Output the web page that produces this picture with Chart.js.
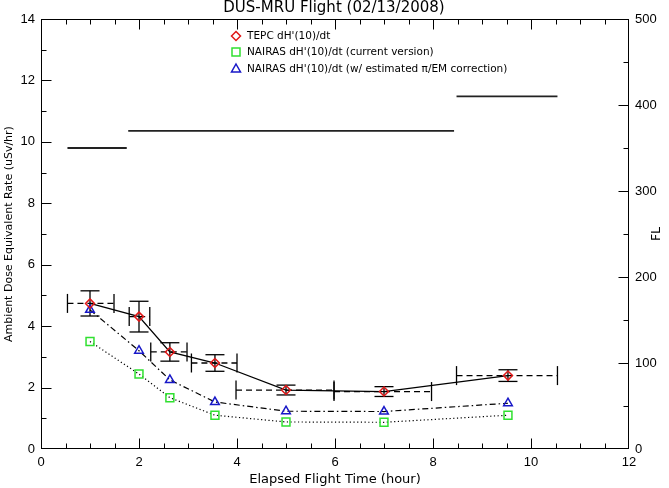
<!DOCTYPE html>
<html><head><meta charset="utf-8">
<script src="https://cdn.jsdelivr.net/npm/chart.js@4.4.0/dist/chart.umd.min.js"></script>
<style>html,body{margin:0;padding:0;background:#fff}#wrap{width:669px;height:488px;position:relative}</style>
</head><body><div id="wrap"><canvas id="c" width="669" height="488"></canvas></div>
<script>
const titleText = 'DUS-MRU Flight (02/13/2008)';
const xTitle = 'Elapsed Flight Time (hour)';
const yTitle = 'Ambient Dose Equivalent Rate (uSv/hr)';
const y2Title = 'FL';
const seriesNames = ["TEPC dH'(10)/dt", "NAIRAS dH'(10)/dt (current version)", "NAIRAS dH'(10)/dt (w/ estimated \u03c0/EM correction)"];
const timeH = [1.0, 2.0, 2.63, 3.55, 5.0, 7.0, 9.53];
const timeLo = [0.54, 1.80, 2.24, 3.07, 3.98, 5.98, 8.48];
const timeHi = [1.49, 2.22, 2.98, 4.00, 5.98, 7.97, 10.54];
const tepc = [4.74, 4.31, 3.16, 2.80, 1.92, 1.87, 2.39];
const tepcErr = [0.41, 0.50, 0.30, 0.27, 0.16, 0.16, 0.19];
const nairasCurrent = [3.50, 2.44, 1.67, 1.10, 0.88, 0.87, 1.10];
const nairasCorrected = [4.53, 3.20, 2.25, 1.53, 1.23, 1.22, 1.49];
const flStart = [0.54, 1.78, 8.48];
const flEnd = [1.75, 8.43, 10.54];
const flLevel = [350, 370, 410];

const RED = '#e01818', GREEN = '#30e030', BLUE = '#1818c8';

function pts(xs, ys){ return xs.map((v,i)=>({x:v, y:ys[i]})); }
const flData = [];
flStart.forEach((s,i)=>{
  if (i>0) flData.push({x:(flEnd[i-1]+s)/2, y:null});
  flData.push({x:s, y:flLevel[i]});
  flData.push({x:flEnd[i], y:flLevel[i]});
});

function line(ctx,x1,y1,x2,y2){ctx.beginPath();ctx.moveTo(x1,y1);ctx.lineTo(x2,y2);ctx.stroke();}

function marker(ctx, type, x, y, color){
  ctx.save(); ctx.strokeStyle=color; ctx.lineWidth=1.5; ctx.setLineDash([]);
  ctx.beginPath();
  if (type==='diamond'){ const r=4.5; ctx.moveTo(x,y-r);ctx.lineTo(x+r,y);ctx.lineTo(x,y+r);ctx.lineTo(x-r,y);ctx.closePath(); }
  else if (type==='square'){ const h=4; ctx.rect(x-h,y-h,2*h,2*h); }
  else { const r=5; ctx.moveTo(x,y-r);ctx.lineTo(x+r*0.9,y+r*0.6);ctx.lineTo(x-r*0.9,y+r*0.6);ctx.closePath(); }
  ctx.stroke(); ctx.restore();
}

const errorBars = {
  id:'errorBars',
  beforeDatasetsDraw(chart){
    const {ctx, scales:{x,y}} = chart;
    ctx.save(); ctx.strokeStyle='#000'; ctx.lineWidth=1.3;
    for (let i=0;i<timeH.length;i++){
      const px=x.getPixelForValue(timeH[i]), py=y.getPixelForValue(tepc[i]);
      const pT=y.getPixelForValue(tepc[i]+tepcErr[i]), pB=y.getPixelForValue(tepc[i]-tepcErr[i]);
      const pL=x.getPixelForValue(timeLo[i]), pR=x.getPixelForValue(timeHi[i]);
      ctx.setLineDash([]);
      line(ctx,px,pT,px,pB); line(ctx,px-9.5,pT,px+9.5,pT); line(ctx,px-9.5,pB,px+9.5,pB);
      ctx.setLineDash([6,4]); line(ctx,pL,py,pR,py);
      ctx.setLineDash([]); line(ctx,pL,py-9.5,pL,py+9.5); line(ctx,pR,py-9.5,pR,py+9.5);
    }
    ctx.restore();
  }
};

const frame = {
  id:'frame',
  afterDraw(chart){
    const {ctx, chartArea:a, scales:{x,y,y2}} = chart;
    ctx.save(); ctx.strokeStyle='#000'; ctx.lineWidth=1; ctx.setLineDash([]);
    const L=Math.round(a.left)+0.5, R=Math.round(a.right)-0.5, T=Math.round(a.top)+0.5, B=Math.round(a.bottom)-0.5;
    ctx.strokeRect(L,T,R-L,B-T);
    for (let v=0.5; v<12; v+=0.5){
      const p=Math.round(x.getPixelForValue(v))+0.5, len=(v%2===0)?10:5;
      line(ctx,p,B,p,B-len); line(ctx,p,T,p,T+len);
    }
    for (let v=1; v<14; v+=1){
      const p=Math.round(y.getPixelForValue(v))+0.5, len=(v%2===0)?10:5;
      line(ctx,L,p,L+len,p);
    }
    for (let v=50; v<500; v+=50){
      const p=Math.round(y2.getPixelForValue(v))+0.5, len=(v%100===0)?10:5;
      line(ctx,R,p,R-len,p);
    }
    ctx.fillStyle='#000'; ctx.textAlign='center'; ctx.textBaseline='middle';
    ctx.font='15px "DejaVu Sans"';
    ctx.fillText(titleText, 334, 8);
    ctx.save(); ctx.translate(657, 234); ctx.rotate(-Math.PI/2);
    ctx.font='12.5px "DejaVu Sans"'; ctx.fillText(y2Title,0,0); ctx.restore();
    const types=['diamond','square','triangle'], cols=[RED,GREEN,BLUE], ly=[36,52,69];
    ctx.font='10.5px "DejaVu Sans"'; ctx.textAlign='left';
    for (let i=0;i<3;i++){
      marker(ctx,types[i],236,ly[i],cols[i]);
      ctx.fillStyle='#000'; ctx.fillText(seriesNames[i],247,ly[i]);
    }
    ctx.restore();
  }
};

const tickFont = {family:'"Liberation Sans", Arial, sans-serif', size:13};
new Chart(document.getElementById('c'), {
  type:'line',
  data:{datasets:[
    {label:seriesNames[0], data:pts(timeH,tepc), yAxisID:'y', borderColor:'#000', borderWidth:1.3,
     pointStyle:'rectRot', pointRadius:4.5, pointBorderColor:RED, pointBackgroundColor:'rgba(0,0,0,0)', pointBorderWidth:1.5, tension:0},
    {label:seriesNames[2], data:pts(timeH,nairasCorrected), yAxisID:'y', borderColor:'#000', borderWidth:1.2, borderDash:[6,3,1.5,3],
     pointStyle:'triangle', pointRadius:5, pointBorderColor:BLUE, pointBackgroundColor:'rgba(0,0,0,0)', pointBorderWidth:1.5, tension:0},
    {label:seriesNames[1], data:pts(timeH,nairasCurrent), yAxisID:'y', borderColor:'#000', borderWidth:1.2, borderDash:[1.2,2.5],
     pointStyle:'rect', pointRadius:5.6, pointBorderColor:GREEN, pointBackgroundColor:'rgba(0,0,0,0)', pointBorderWidth:1.5, tension:0},
    {label:'FL', data:flData, yAxisID:'y2', borderColor:'#222', borderWidth:1.8, pointRadius:0, spanGaps:false, tension:0}
  ]},
  options:{
    responsive:false, animation:false, devicePixelRatio:1,
    layout:{padding:{top:19,left:0,right:0,bottom:0}},
    plugins:{legend:{display:false}, tooltip:{enabled:false}, title:{display:false}},
    scales:{
      x:{type:'linear', position:'bottom', min:0, max:12,
         ticks:{stepSize:2, color:'#000', font:tickFont, padding:6, maxRotation:0},
         grid:{display:false, drawTicks:false}, border:{display:false},
         title:{display:true, text:xTitle, color:'#000', font:{family:'"DejaVu Sans"', size:13}, padding:{top:0,bottom:1}},
         afterFit(s){ s.height=39; }},
      y:{type:'linear', position:'left', min:0, max:14,
         ticks:{stepSize:2, color:'#000', font:tickFont, padding:6},
         grid:{display:false, drawTicks:false}, border:{display:false},
         title:{display:true, text:yTitle, color:'#000', font:{family:'"DejaVu Sans"', size:11}, padding:{top:2.5,bottom:0}},
         afterFit(s){ s.width=41; }},
      y2:{type:'linear', position:'right', min:0, max:500,
         ticks:{stepSize:100, color:'#000', font:tickFont, padding:6},
         grid:{display:false, drawTicks:false}, border:{display:false},
         afterFit(s){ s.width=40; }}
    }
  },
  plugins:[errorBars, frame]
});
</script></body></html>
